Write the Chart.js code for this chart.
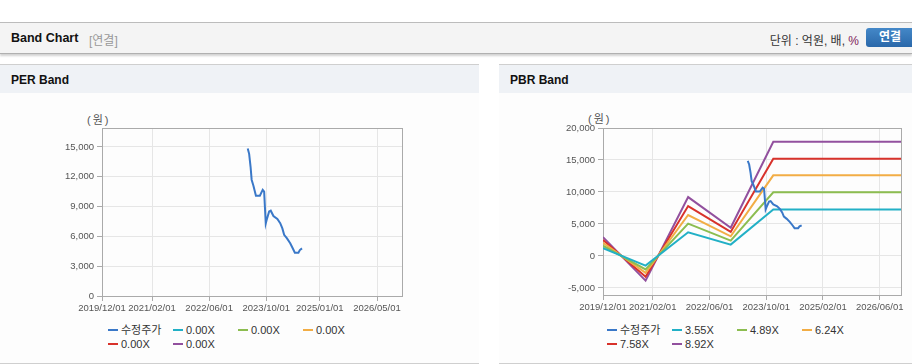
<!DOCTYPE html>
<html>
<head>
<meta charset="utf-8">
<script src="https://cdn.jsdelivr.net/npm/chart.js@4/dist/chart.umd.min.js"></script>
<style>
  body { margin: 0; width: 912px; height: 364px; overflow: hidden; background: #fff;
         font-family: "Liberation Sans", "Noto Sans CJK KR", sans-serif; color: #222; position: relative; }
  .head { position: absolute; left: 0; top: 22px; width: 912px; height: 30px; background: #f4f4f4;
          border-top: 1px solid #bcbcbc; border-bottom: 1px solid #b0b0b0; box-shadow: 0 2px 2px rgba(0,0,0,0.18); }
  .head .title { position: absolute; left: 11px; top: 8px; font-size: 12.5px; font-weight: bold; color: #111; }
  .head .sub { position: absolute; left: 89px; top: 8px; font-size: 12px; color: #999; }
  .head .unit { position: absolute; right: 53px; top: 8px; font-size: 12px; color: #333; }
  .head .unit b { font-weight: normal; color: #7e2358; }
  .head .btn { position: absolute; left: 866px; top: 5px; width: 52px; height: 19px; border-radius: 3px;
               background: linear-gradient(#4488c8, #2a68aa); color: #fff; font-size: 12px; font-weight: bold;
               line-height: 19px; text-indent: 13px; }
  .panel { position: absolute; top: 64px; height: 298px; background: #fdfdfd;
           border-top: 1px solid #cfcfcf; border-bottom: 1px solid #cfcfcf; }
  .panel .bar { height: 28px; background: #eff2f6; }
  .panel .bar span { position: absolute; left: 11px; top: 8px; font-size: 12px; font-weight: bold; color: #111; }
  .unitlbl { position: absolute; font-size: 11px; color: #555; letter-spacing: 2px; }
  canvas { position: absolute; }
  .legend { position: absolute; width: 270px; font-size: 11px; color: #333; }
  .legend .item { display: inline-block; width: 65px; height: 14px; line-height: 14px; white-space: nowrap; }
  .legend .mark { display: inline-block; width: 10px; height: 2px; margin-right: 3px; vertical-align: middle; position: relative; top: -1px; }
</style>
</head>
<body>
<div class="head">
  <span class="title">Band Chart</span><span class="sub">[연결]</span>
  <span class="unit">단위 : 억원, 배, <b>%</b></span>
  <span class="btn">연결</span>
</div>
<div class="panel" style="left:0;width:479px;"><div class="bar"><span>PER Band</span></div></div>
<div class="panel" style="left:499px;width:413px;"><div class="bar"><span>PBR Band</span></div></div>
<span class="unitlbl" style="left:87px;top:111px;">(원)</span>
<span class="unitlbl" style="left:588px;top:110px;">(원)</span>
<canvas id="perChart" width="370" height="221" style="left:40px;top:95px;"></canvas>
<canvas id="pbrChart" width="370" height="220" style="left:540px;top:95px;"></canvas>
<div class="legend" id="perLegend" style="left:108px;top:323px;"></div>
<div class="legend" id="pbrLegend" style="left:607px;top:323px;"></div>
<script>
// x values are months since 2019/12/01
const perTickMonths = [0, 14, 30, 46, 61, 77];
const perTickLabels = ['2019/12/01', '2021/02/01', '2022/06/01', '2023/10/01', '2025/01/01', '2026/05/01'];
const pbrTickMonths = [0, 14, 30, 46, 62, 78];
const pbrTickLabels = ['2019/12/01', '2021/02/01', '2022/06/01', '2023/10/01', '2025/02/01', '2026/06/01'];
const perYTicks = [0, 3000, 6000, 9000, 12000, 15000];
const pbrYTicks = [-5000, 0, 5000, 10000, 15000, 20000];

const priceMonths = [40.8, 41.2, 41.6, 41.9, 42.4, 43.1, 44.2, 45.0, 45.4, 45.85, 46.1, 46.8, 47.25, 48.0, 49.1, 49.9, 50.5, 51.0, 51.8, 52.7, 53.4, 54.0, 55.0, 55.4, 56.0];
const priceValues = [14850, 14300, 13000, 11700, 11100, 10080, 10080, 10680, 10500, 7300, 7650, 8500, 8580, 8050, 7750, 7320, 6800, 6150, 5800, 5300, 4800, 4350, 4350, 4620, 4790];

const bandMonths = [0, 12, 24, 36, 48, 84];
const band355 = [1200, -1500, 3700, 1770, 7250, 7250];
const band489 = [1600, -2100, 5050, 2400, 9950, 9950];
const band624 = [2050, -2650, 6400, 3070, 12600, 12600];
const band758 = [2500, -3250, 7800, 3750, 15200, 15200];
const band892 = [2950, -3850, 9200, 4400, 17850, 17850];

const perNames = ['수정주가', '0.00X', '0.00X', '0.00X', '0.00X', '0.00X'];
const pbrNames = ['수정주가', '3.55X', '4.89X', '6.24X', '7.58X', '8.92X'];
const colors = ['#3a78c8', '#22b0c6', '#8cbd50', '#f2ad45', '#d8322b', '#92509e'];

function points(xs, ys) {
  return ys.map((y, i) => ({ x: xs[i], y: y }));
}

// frame around the plot area
const plotBox = {
  id: 'plotBox',
  beforeDatasetsDraw(chart) {
    const a = chart.chartArea, ctx = chart.ctx;
    ctx.save();
    ctx.strokeStyle = '#aaaaaa';
    ctx.lineWidth = 1;
    ctx.strokeRect(Math.round(a.left) + 0.5, Math.round(a.top) + 0.5, Math.round(a.right - a.left), Math.round(a.bottom - a.top));
    ctx.restore();
  }
};

function makeChart(id, datasets, xMonths, xLabels, yTicks, yMin, yMax, yWidth, padRight) {
  const tickFont = { family: 'Liberation Sans', size: 9.5 };
  return new Chart(document.getElementById(id), {
    type: 'line',
    data: {
      datasets: datasets.map((d, i) => ({
        label: d.label,
        data: d.data,
        borderColor: colors[i],
        backgroundColor: colors[i],
        borderWidth: 2,
        pointRadius: 0,
        tension: 0,
        fill: false
      }))
    },
    options: {
      responsive: false,
      animation: false,
      devicePixelRatio: 1,
      layout: { padding: { top: 33, right: padRight, left: 0, bottom: 0 } },
      plugins: { legend: { display: false }, tooltip: { enabled: false } },
      scales: {
        x: {
          type: 'linear',
          min: 0,
          max: 84,
          afterBuildTicks: s => { s.ticks = xMonths.map(v => ({ value: v })); },
          afterFit: s => { s.height = 20; },
          grid: { color: '#e6e6e6', tickColor: '#aaaaaa', tickLength: 5 },
          border: { color: '#aaaaaa' },
          ticks: {
            autoSkip: false, maxRotation: 0, padding: 2, color: '#555', font: tickFont,
            callback: (v, i) => xLabels[i]
          }
        },
        y: {
          min: yMin,
          max: yMax,
          afterBuildTicks: s => { s.ticks = yTicks.map(v => ({ value: v })); },
          afterFit: s => { s.width = yWidth; },
          grid: { color: '#e6e6e6', tickColor: '#aaaaaa', tickLength: 5 },
          border: { color: '#aaaaaa' },
          ticks: {
            padding: 3, color: '#555', font: tickFont,
            callback: v => v.toLocaleString('en-US')
          }
        }
      }
    },
    plugins: [plotBox]
  });
}

function buildLegend(elId, names) {
  const el = document.getElementById(elId);
  el.innerHTML = names.map((n, i) =>
    `<span class="item"><span class="mark" style="background:${colors[i]}"></span>${n}</span>`).join('');
}

makeChart('perChart', [
  { label: perNames[0], data: points(priceMonths, priceValues) },
  { label: perNames[1], data: [] },
  { label: perNames[2], data: [] },
  { label: perNames[3], data: [] },
  { label: perNames[4], data: [] },
  { label: perNames[5], data: [] }
], perTickMonths, perTickLabels, perYTicks, 0, 16900, 62, 8);

makeChart('pbrChart', [
  { label: pbrNames[0], data: points(priceMonths, priceValues) },
  { label: pbrNames[1], data: points(bandMonths, band355) },
  { label: pbrNames[2], data: points(bandMonths, band489) },
  { label: pbrNames[3], data: points(bandMonths, band624) },
  { label: pbrNames[4], data: points(bandMonths, band758) },
  { label: pbrNames[5], data: points(bandMonths, band892) }
], pbrTickMonths, pbrTickLabels, pbrYTicks, -6100, 20000, 63, 9);

buildLegend('perLegend', perNames);
buildLegend('pbrLegend', pbrNames);
</script>
</body>
</html>
